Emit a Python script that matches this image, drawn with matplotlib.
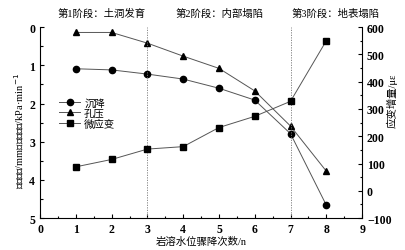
import matplotlib
matplotlib.use("Agg")
import matplotlib.pyplot as plt
from matplotlib.ticker import MultipleLocator

plt.rcParams['font.family'] = ['Liberation Serif', 'Noto Sans CJK SC']
plt.rcParams['axes.unicode_minus'] = True

# --- Daten ---
n = [1, 2, 3, 4, 5, 6, 7, 8]
settlement = [1.09, 1.12, 1.23, 1.36, 1.60, 1.91, 2.79, 4.66]
pore = [0.14, 0.14, 0.42, 0.76, 1.08, 1.67, 2.59, 3.77]
strain = [88, 115, 153, 162, 232, 273, 328, 550]

stages = ["第1阶段：土洞发育", "第2阶段：内部塌陷", "第3阶段：地表塌陷"]
stage_x = [1.73, 5.03, 8.27]
borders = [3, 7]

fig = plt.figure(figsize=(4.05, 2.51), dpi=100)
ax = fig.add_axes([0.099, 0.127, 0.795, 0.761])
ax2 = ax.twinx()

lc = "#555555"
l1, = ax.plot(n, settlement, "-o", color=lc, lw=0.7, mfc="black", mec="black", ms=4.5, label="沉降")
l2, = ax.plot(n, pore, "-^", color=lc, lw=0.7, mfc="black", mec="black", ms=4.5, label="孔压")
l3, = ax2.plot(n, strain, "-s", color=lc, lw=0.7, mfc="black", mec="black", ms=4, label="微应变")

for b in borders:
    ax.axvline(b, color="#777777", lw=0.6, ls=(0, (1.5, 1.5)))

ax.set_xlim(0, 9)
ax.set_ylim(5, 0)
ax2.set_ylim(-100, 600)
ax.xaxis.set_major_locator(MultipleLocator(1))
ax.xaxis.set_minor_locator(MultipleLocator(0.5))
ax.yaxis.set_major_locator(MultipleLocator(1))
ax.yaxis.set_minor_locator(MultipleLocator(0.5))
ax2.yaxis.set_major_locator(MultipleLocator(100))
ax2.yaxis.set_minor_locator(MultipleLocator(50))

for a in (ax, ax2):
    a.spines["top"].set_visible(False)
    a.tick_params(which="both", direction="in", labelsize=8.5, width=0.8)
    a.tick_params(which="major", length=3)
    a.tick_params(which="minor", length=1.8)
    for lab in a.get_xticklabels() + a.get_yticklabels():
        lab.set_fontweight("bold")
ax.spines["right"].set_visible(False)
ax2.spines["left"].set_visible(False)
ax2.spines["bottom"].set_visible(False)

ax.set_xlabel("岩溶水位骤降次数/n", fontsize=7.5, labelpad=1)
ax.set_ylabel("沉降增量/mm、孔压增速/kPa·min$^{-1}$", fontsize=7.5)
ax.yaxis.set_label_coords(-0.045, 0.46)
ax2.set_ylabel("应变增量/με", fontsize=7.5, rotation=90)
ax2.yaxis.set_label_coords(1.075, 0.62)

for s, x in zip(stages, stage_x):
    ax.text(x, 1.05, s, transform=ax.get_xaxis_transform(), ha="center", va="bottom", fontsize=7.5)

ax.legend(handles=[l1, l2, l3], loc="upper left", bbox_to_anchor=(0.03, 0.68), frameon=False,
          fontsize=7.5, handlelength=2, handletextpad=0.4, labelspacing=0.1)

plt.savefig("out.png", dpi=100)
